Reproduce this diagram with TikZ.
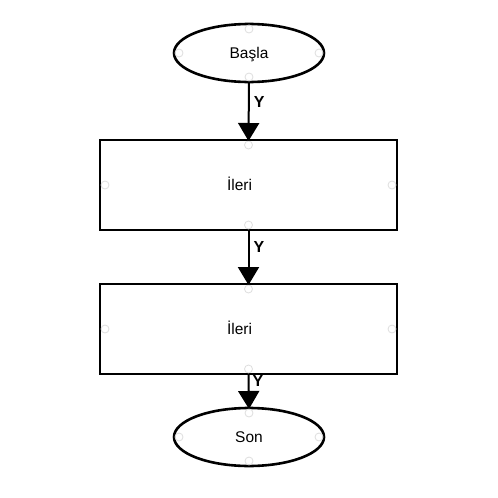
\documentclass[tikz,border=0pt]{standalone}
\usepackage{fontspec}
\setmainfont{Liberation Sans}
\usetikzlibrary{shapes.geometric,arrows.meta}
\begin{document}
\begin{tikzpicture}[x=1pt,y=-1pt,
  txt/.style={font=\fontsize{15.5}{17}\selectfont,text height=11pt,text depth=0pt},
  term/.style={ellipse,draw,line width=2.6pt,minimum width=150pt,minimum height=58pt,inner sep=0pt,outer sep=0pt,txt},
  proc/.style={rectangle,draw,line width=2.6pt,minimum width=297pt,minimum height=90pt,inner sep=0pt,outer sep=0pt,txt},
  flow/.style={line width=2pt,-{Triangle[length=18pt,width=21pt]},shorten >=-1pt},
  ylab/.style={font=\bfseries\fontsize{16}{18}\selectfont,anchor=west,inner sep=0pt},
  port/.style={circle,draw=black!13,line width=0.8pt,minimum size=8pt,inner sep=0pt}]
\useasboundingbox (0,0) rectangle (498,498);
\fill[white] (0,0) rectangle (498,498);
\node[term] (start) at (249,53) {Başla};
\node[proc] (p1) at (248.5,185) {\hspace*{-18pt}İleri};
\node[proc] (p2) at (248.5,329) {\hspace*{-18pt}İleri};
\node[term] (stop) at (249,437) {Son};
% faint connection points
\foreach \n in {start,stop,p1,p2}{
  \node[port] at ([yshift=-5pt]\n.north) {};
  \node[port] at ([yshift=5pt]\n.south) {};
  \node[port] at ([xshift=5pt]\n.west) {};
  \node[port] at ([xshift=-5pt]\n.east) {};
}
\draw[flow] (start.south) -- (p1.north) node[ylab,pos=0.33,xshift=4pt,yshift=-1pt] (y1) {Y};
\draw[flow] (p1.south) -- (p2.north) node[ylab,pos=0.3,xshift=4pt,yshift=-1pt] (y2) {Y};
\draw[flow] (p2.south) -- (stop.north) node[ylab,pos=0.22,xshift=3pt] (y3) {Y};
\end{tikzpicture}
\end{document}
